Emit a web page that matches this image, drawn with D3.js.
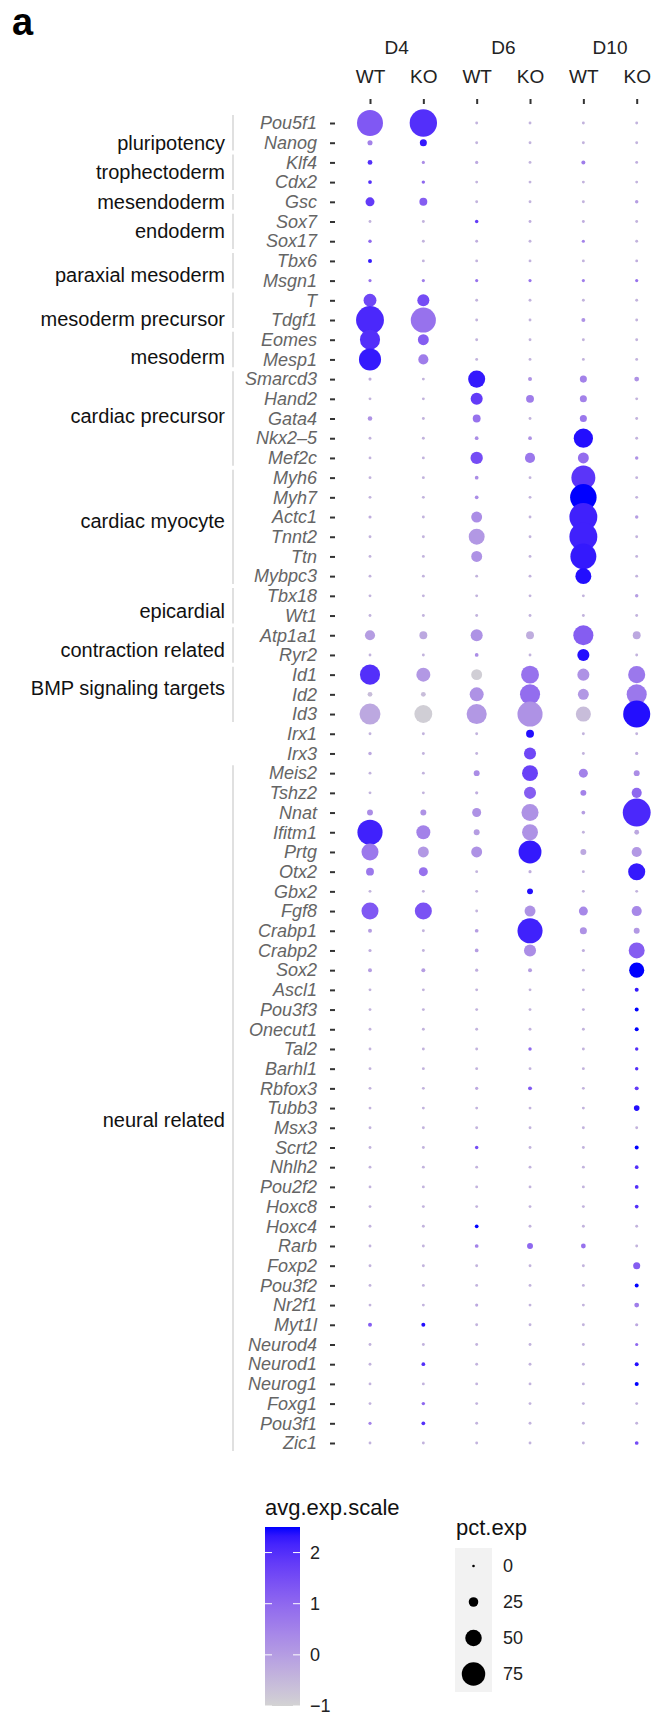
<!DOCTYPE html>
<html>
<head>
<meta charset="utf-8">
<script src="https://cdn.jsdelivr.net/npm/d3@7"></script>
<style>
  html, body { margin: 0; padding: 0; background: #fff; }
  svg { display: block; font-family: "Liberation Sans", Arial, sans-serif; }
  .gene-axis text { font-style: italic; font-size: 18px; fill: #656565; }
  .gene-axis line, .cond-axis line { stroke: #333; stroke-width: 2; }
  .cond-axis text { font-size: 19px; fill: #222; }
  .group-label { font-size: 20px; fill: #111; }
  .legend-title { font-size: 22px; fill: #111; }
  .legend-label { font-size: 18px; fill: #222; }
</style>
</head>
<body>
<svg id="chart"></svg>
<script>
// ---- data -------------------------------------------------------------
const days = ["D4", "D6", "D10"];
const genotypes = ["WT", "KO"];

const genes = [
  "Pou5f1", "Nanog", "Klf4", "Cdx2", "Gsc", "Sox7", "Sox17", "Tbx6", "Msgn1",
  "T", "Tdgf1", "Eomes", "Mesp1", "Smarcd3", "Hand2", "Gata4", "Nkx2\u20135",
  "Mef2c", "Myh6", "Myh7", "Actc1", "Tnnt2", "Ttn", "Mybpc3", "Tbx18", "Wt1",
  "Atp1a1", "Ryr2", "Id1", "Id2", "Id3", "Irx1", "Irx3", "Meis2", "Tshz2",
  "Nnat", "Ifitm1", "Prtg", "Otx2", "Gbx2", "Fgf8", "Crabp1", "Crabp2", "Sox2",
  "Ascl1", "Pou3f3", "Onecut1", "Tal2", "Barhl1", "Rbfox3", "Tubb3", "Msx3",
  "Scrt2", "Nhlh2", "Pou2f2", "Hoxc8", "Hoxc4", "Rarb", "Foxp2", "Pou3f2",
  "Nr2f1", "Myt1l", "Neurod4", "Neurod1", "Neurog1", "Foxg1", "Pou3f1", "Zic1"
];

// percent of cells expressing, columns: D4 WT, D4 KO, D6 WT, D6 KO, D10 WT, D10 KO
const pctExp = [
  [84, 89, 1, 1, 1, 1], [9, 16, 1, 1, 1, 1], [8, 2, 2, 1, 5, 1], [4, 3, 1, 1, 1, 1],
  [23, 19, 1, 1, 1, 3], [1, 1, 3, 1, 1, 1], [3, 1, 1, 1, 2, 1], [5, 1, 1, 1, 1, 1],
  [2, 2, 2, 2, 2, 2], [37, 34, 1, 1, 1, 1], [91, 81, 1, 1, 5, 1], [63, 30, 1, 1, 1, 1],
  [70, 27, 1, 1, 1, 1], [2, 1, 52, 5, 16, 8], [1, 1, 34, 19, 16, 1], [7, 1, 19, 1, 16, 1],
  [1, 1, 4, 4, 60, 1], [1, 1, 35, 27, 30, 3], [1, 1, 4, 1, 77, 1], [1, 1, 4, 1, 86, 1],
  [2, 1, 30, 1, 91, 3], [1, 1, 48, 1, 91, 1], [1, 1, 30, 1, 84, 1], [1, 1, 1, 1, 48, 1],
  [1, 1, 1, 1, 1, 3], [1, 1, 1, 1, 1, 1], [27, 19, 34, 19, 63, 19], [1, 1, 4, 1, 34, 1],
  [63, 41, 30, 55, 34, 52], [8, 8, 41, 63, 30, 63], [66, 55, 63, 81, 45, 88], [1, 1, 1, 19, 1, 1],
  [3, 1, 1, 34, 1, 2], [1, 1, 12, 48, 23, 12], [1, 1, 2, 34, 12, 27], [12, 12, 23, 52, 4, 91],
  [81, 41, 12, 48, 1, 8], [52, 30, 30, 73, 12, 27], [19, 23, 1, 2, 1, 52], [1, 1, 1, 12, 1, 1],
  [52, 52, 1, 30, 23, 27], [5, 1, 4, 81, 16, 12], [2, 1, 4, 34, 2, 48], [5, 5, 2, 5, 1, 45],
  [1, 1, 1, 1, 1, 5], [1, 1, 1, 1, 1, 5], [1, 1, 1, 1, 1, 5], [1, 1, 1, 3, 1, 3],
  [1, 1, 1, 1, 1, 3], [1, 1, 2, 5, 1, 5], [1, 1, 1, 1, 1, 11], [1, 1, 1, 1, 1, 1],
  [1, 1, 3, 1, 1, 5], [1, 1, 1, 1, 1, 4], [1, 1, 1, 1, 1, 4], [1, 1, 1, 1, 1, 4],
  [1, 1, 4, 1, 1, 1], [1, 1, 4, 12, 8, 1], [1, 1, 1, 1, 1, 16], [1, 1, 1, 1, 1, 5],
  [1, 1, 2, 1, 1, 8], [5, 5, 1, 1, 1, 2], [1, 1, 1, 1, 1, 2], [1, 4, 1, 1, 1, 5],
  [1, 1, 1, 1, 1, 5], [1, 3, 1, 1, 1, 1], [2, 4, 1, 1, 1, 1], [1, 1, 1, 1, 1, 4]
];

// scaled average expression, same layout
const avgExp = [
  [1.3, 2.0, -0.4, -0.4, -0.4, -0.4], [0.5, 2.3, -0.4, -0.4, -0.4, -0.4],
  [2.0, 0.3, -0.2, -0.4, 0.6, -0.3], [2.0, 1.0, -0.4, -0.4, -0.4, -0.4],
  [1.8, 1.2, -0.4, -0.4, -0.4, 0.0], [-0.4, -0.4, 1.8, -0.3, -0.3, -0.4],
  [1.0, -0.4, -0.3, -0.4, 0.5, -0.4], [2.3, -0.4, -0.4, -0.4, -0.4, -0.3],
  [0.8, 0.6, 0.8, 0.8, 0.6, 0.8], [1.6, 1.5, -0.4, -0.4, -0.4, -0.4],
  [2.1, 0.8, -0.4, -0.4, 0.2, -0.4], [2.0, 1.2, -0.4, -0.4, -0.4, -0.4],
  [2.3, 0.6, -0.4, -0.4, -0.4, -0.4], [-0.3, -0.4, 2.3, 0.2, 0.5, 0.2],
  [-0.4, -0.4, 1.8, 0.6, 0.5, -0.4], [0.2, -0.4, 0.8, -0.4, 0.7, -0.4],
  [-0.4, -0.4, 0.3, 0.2, 2.4, -0.4], [-0.4, -0.4, 1.5, 0.7, 0.9, 0.2],
  [-0.4, -0.4, 0.3, -0.4, 1.9, -0.4], [-0.4, -0.4, 0.3, -0.4, 2.5, -0.4],
  [-0.3, -0.4, 0.3, -0.4, 2.2, 0.0], [-0.4, -0.4, 0.1, -0.4, 2.2, -0.4],
  [-0.4, -0.4, 0.2, -0.4, 2.3, -0.4], [-0.4, -0.4, -0.4, -0.4, 2.4, -0.4],
  [-0.4, -0.4, -0.4, -0.4, -0.4, 0.0], [-0.4, -0.4, -0.4, -0.4, -0.4, -0.4],
  [0.0, -0.2, 0.2, -0.3, 1.2, -0.2], [-0.4, -0.4, 0.3, -0.4, 2.4, -0.4],
  [2.0, 0.1, -0.9, 0.8, 0.2, 0.7], [-0.6, -0.6, 0.2, 0.9, 0.1, 0.7],
  [-0.2, -0.9, 0.1, 0.2, -0.6, 2.4], [-0.4, -0.4, -0.4, 2.4, -0.4, -0.4],
  [-0.2, -0.4, -0.4, 1.6, -0.4, -0.3], [-0.4, -0.4, 0.3, 1.7, 0.5, 0.3],
  [-0.4, -0.4, -0.3, 1.2, 0.5, 1.0], [0.3, 0.2, 0.2, 0.2, 0.0, 2.1],
  [2.2, 0.5, 0.0, 0.2, -0.4, -0.2], [0.7, 0.1, 0.2, 2.3, -0.2, 0.1],
  [0.7, 0.8, -0.4, -0.3, -0.4, 2.3], [-0.4, -0.4, -0.4, 2.4, -0.4, -0.4],
  [1.3, 1.4, -0.4, 0.2, 0.4, 0.4], [0.0, -0.4, 0.0, 2.2, 0.2, 0.1],
  [-0.3, -0.4, 0.0, 0.3, -0.3, 1.2], [0.0, 0.0, -0.3, 0.0, -0.4, 2.5],
  [-0.4, -0.4, -0.4, -0.4, -0.4, 2.3], [-0.4, -0.4, -0.4, -0.4, -0.4, 2.5],
  [-0.4, -0.4, -0.4, -0.4, -0.4, 2.5], [-0.4, -0.4, -0.4, 1.0, -0.4, 2.0],
  [-0.4, -0.4, -0.4, -0.4, -0.4, 2.0], [-0.4, -0.4, -0.2, 1.3, -0.4, 1.8],
  [-0.4, -0.4, -0.4, -0.4, -0.4, 2.4], [-0.4, -0.4, -0.4, -0.4, -0.4, -0.4],
  [-0.4, -0.4, 1.5, -0.4, -0.4, 2.5], [-0.4, -0.4, -0.4, -0.4, -0.4, 2.0],
  [-0.4, -0.4, -0.4, -0.4, -0.4, 2.0], [-0.4, -0.4, -0.4, -0.4, -0.4, 2.0],
  [-0.4, -0.4, 2.5, -0.4, -0.4, -0.4], [-0.4, -0.4, 0.5, 1.0, 0.8, -0.4],
  [-0.4, -0.4, -0.4, -0.4, -0.4, 1.2], [-0.4, -0.4, -0.4, -0.4, -0.4, 2.5],
  [-0.4, -0.4, -0.2, -0.4, -0.4, 0.6], [1.2, 2.4, -0.4, -0.4, -0.4, -0.2],
  [-0.4, -0.4, -0.4, -0.4, -0.4, 1.0], [-0.4, 2.0, -0.4, -0.4, -0.4, 2.4],
  [-0.4, -0.4, -0.4, -0.4, -0.4, 2.5], [-0.4, 1.0, -0.4, -0.4, -0.4, -0.4],
  [0.5, 2.0, -0.4, -0.4, -0.4, -0.4], [-0.4, -0.4, -0.4, -0.4, -0.4, 1.5]
];

// gene groups (label, first gene, last gene)
const groups = [
  ["pluripotency", "Pou5f1", "Nanog"],
  ["trophectoderm", "Klf4", "Cdx2"],
  ["mesendoderm", "Gsc", "Gsc"],
  ["endoderm", "Sox7", "Sox17"],
  ["paraxial mesoderm", "Tbx6", "Msgn1"],
  ["mesoderm precursor", "T", "Tdgf1"],
  ["mesoderm", "Eomes", "Mesp1"],
  ["cardiac precursor", "Smarcd3", "Mef2c"],
  ["cardiac myocyte", "Myh6", "Mybpc3"],
  ["epicardial", "Tbx18", "Wt1"],
  ["contraction related", "Atp1a1", "Ryr2"],
  ["BMP signaling targets", "Id1", "Id3"],
  ["neural related", "Meis2", "Zic1"]
];

const colorTicks = [-1, 0, 1, 2];
const sizeBreaks = [0, 25, 50, 75];

// ---- layout -----------------------------------------------------------
const W = 658, H = 1715;
const conditions = days.flatMap(d => genotypes.map(g => `${d} ${g}`));

// label nudges in row units (labels in the figure are not exactly centred)
const labelNudge = {
  "pluripotency": 0.5, "mesoderm precursor": 0.45, "mesoderm": 0.4,
  "paraxial mesoderm": 0.2, "epicardial": 0.25, "contraction related": 0.25,
  "cardiac myocyte": -0.3, "cardiac precursor": -0.15, "BMP signaling targets": -0.3,
  "neural related": 0.6
};

const svg = d3.select("#chart").attr("width", W).attr("height", H);
svg.append("rect").attr("width", W).attr("height", H).attr("fill", "#fff");

const x = d3.scalePoint().domain(conditions).range([370, 636.7]);
const y = d3.scalePoint().domain(genes).range([123, 1443]);
const r = d3.scaleLinear().domain([0, 100]).range([1.3, 15.2]);
const color = d3.scaleLinear().domain([-1, 2.5])
  .range(["#d3d3d3", "#0000ff"]).interpolate(d3.interpolateLab).clamp(true);

// title letter
svg.append("text").attr("x", 12).attr("y", 35)
  .attr("font-size", 38).attr("font-weight", "bold").attr("fill", "#000").text("a");

// day headers
days.forEach(d => {
  const cx = d3.mean(genotypes, g => x(`${d} ${g}`));
  svg.append("text").attr("x", cx).attr("y", 54).attr("text-anchor", "middle")
    .attr("font-size", 19).attr("fill", "#222").text(d);
});

// top axis: genotype
const topAxis = svg.append("g").attr("class", "cond-axis")
  .attr("transform", "translate(0,104)")
  .call(d3.axisTop(x).tickSize(5).tickPadding(16).tickFormat(c => c.split(" ")[1]));
topAxis.select(".domain").remove();
topAxis.selectAll("text").attr("font-size", null).attr("font-family", null);

// left axis: genes
const leftAxis = svg.append("g").attr("class", "gene-axis")
  .attr("transform", "translate(335,0)")
  .call(d3.axisLeft(y).tickSize(5).tickPadding(13));
leftAxis.select(".domain").remove();
leftAxis.selectAll("text").attr("font-size", null).attr("font-family", null);

// group brackets + labels
const step = y.step();
groups.forEach(([label, g0, g1]) => {
  const y0 = y(g0), y1 = y(g1);
  svg.append("line")
    .attr("x1", 233).attr("x2", 233)
    .attr("y1", y0 - step * 0.4).attr("y2", y1 + step * 0.4)
    .attr("stroke", "#d6d6d6").attr("stroke-width", 1.5);
  const ny = (labelNudge[label] || 0) * step;
  svg.append("text").attr("class", "group-label")
    .attr("x", 225).attr("y", (y0 + y1) / 2 + ny).attr("dy", "0.35em")
    .attr("text-anchor", "end").text(label);
});

// dots
const cells = [];
genes.forEach((g, i) => conditions.forEach((c, j) => {
  cells.push({ gene: g, cond: c, pct: pctExp[i][j], avg: avgExp[i][j] });
}));
svg.append("g").selectAll("circle").data(cells).join("circle")
  .attr("cx", d => x(d.cond)).attr("cy", d => y(d.gene))
  .attr("r", d => r(d.pct)).attr("fill", d => color(d.avg));

// ---- colour legend ------------------------------------------------------
const cbX = 265, cbW = 35;
const cy = d3.scaleLinear().domain([-1, 2.5]).range([1706, 1527]);
svg.append("text").attr("class", "legend-title").attr("x", cbX).attr("y", 1515).text("avg.exp.scale");
const grad = svg.append("defs").append("linearGradient")
  .attr("id", "cbar").attr("x1", 0).attr("y1", 1).attr("x2", 0).attr("y2", 0);
d3.range(0, 1.0001, 0.05).forEach(t => {
  grad.append("stop").attr("offset", t).attr("stop-color", color(-1 + 3.5 * t));
});
svg.append("rect").attr("x", cbX).attr("y", cy(2.5)).attr("width", cbW)
  .attr("height", cy(-1) - cy(2.5)).attr("fill", "url(#cbar)");
const fmt = d3.format("d");
colorTicks.forEach(v => {
  [[cbX, cbX + 7], [cbX + cbW - 7, cbX + cbW]].forEach(([a, b]) => {
    svg.append("line").attr("x1", a).attr("x2", b).attr("y1", cy(v)).attr("y2", cy(v))
      .attr("stroke", "#fff").attr("stroke-width", 1);
  });
  svg.append("text").attr("class", "legend-label").attr("x", cbX + cbW + 10)
    .attr("y", cy(v)).attr("dy", "0.35em").text(fmt(v));
});

// ---- size legend --------------------------------------------------------
const kx = 455, kw = 37, kh = 36, ky = 1548;
svg.append("text").attr("class", "legend-title").attr("x", kx + 1).attr("y", 1535).text("pct.exp");
sizeBreaks.forEach((v, i) => {
  const yc = ky + kh * i + kh / 2;
  svg.append("rect").attr("x", kx).attr("y", ky + kh * i).attr("width", kw).attr("height", kh)
    .attr("fill", "#f2f2f2");
  svg.append("circle").attr("cx", kx + kw / 2).attr("cy", yc).attr("r", r(v)).attr("fill", "#000");
  svg.append("text").attr("class", "legend-label").attr("x", kx + kw + 11)
    .attr("y", yc).attr("dy", "0.35em").text(v);
});
</script>
</body>
</html>
